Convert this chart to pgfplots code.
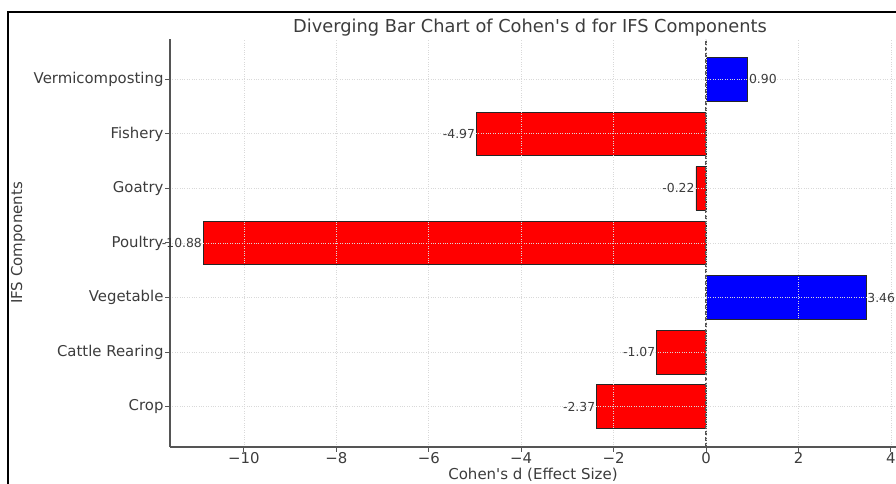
\documentclass[border=0pt]{standalone}
\usepackage{fontspec}
\setmainfont{DejaVu Sans}
\usepackage{pgfplots}
\pgfplotsset{compat=1.18}
\definecolor{txt}{RGB}{60,60,60}
\definecolor{spine}{RGB}{85,85,85}
\definecolor{bred}{RGB}{255,0,0}
\definecolor{bblue}{RGB}{0,0,255}
\begin{document}
\begin{tikzpicture}[x=1bp,y=1bp]
\useasboundingbox (0,0) rectangle (896,484);
\draw[black, line width=1.5bp] (8,0) -- (8,472) -- (896,472);
\begin{axis}[
  at={(170bp,37bp)}, anchor=south west,
  scale only axis, width=726bp, height=408bp,
  xmin=-11.6, xmax=4.11, ymin=-0.74, ymax=6.74,
  axis lines=left, axis line style={-, draw=spine, line width=1.5bp},
  tick align=outside, major tick length=5bp,
  tick style={draw=spine, line width=1bp},
  xtick={-10,-8,...,4}, xticklabels={−10,−8,−6,−4,−2,0,2,4},
  ytick={0,...,6},
  yticklabels={Crop, Cattle Rearing, Vegetable, Poultry, Goatry, Fishery, Vermicomposting},
  ticklabel style={font=\fontsize{14.9bp}{17bp}\selectfont, text=txt},
  xticklabel style={yshift=3bp},
  yticklabel style={xshift=2bp},
  grid=major, major grid style={dotted, gray!30, line width=0.8bp},
  axis on top,
  clip=false,
]
\addplot[xbar, bar width=0.8, bar shift=0pt, fill=bred, draw=black!85, line width=0.8bp,
  nodes near coords, point meta=explicit symbolic,
  every node near coord/.append style={anchor=east, font=\fontsize{12.4bp}{14bp}\selectfont, text=txt, inner sep=1bp}]
  coordinates {(-2.37,0) [-2.37] (-1.07,1) [-1.07] (-10.88,3) [-10.88] (-0.22,4) [-0.22] (-4.97,5) [-4.97]};
\addplot[xbar, bar width=0.8, bar shift=0pt, fill=bblue, draw=black!85, line width=0.8bp,
  nodes near coords, point meta=explicit symbolic,
  every node near coord/.append style={anchor=west, font=\fontsize{12.4bp}{14bp}\selectfont, text=txt, inner sep=1bp}]
  coordinates {(3.46,2) [3.46] (0.90,6) [0.90]};
\addplot[forget plot, draw=spine, line width=1.2bp, dash pattern=on 4bp off 2bp] coordinates {(0,-0.74) (0,6.74)};
\end{axis}
\node[font=\fontsize{17.8bp}{20bp}\selectfont, text=txt] at (530,456) {Diverging Bar Chart of Cohen\textquotesingle s d for IFS Components};
\node[font=\fontsize{15bp}{18bp}\selectfont, text=txt] at (533,9) {Cohen\textquotesingle s d (Effect Size)};
\node[font=\fontsize{15bp}{18bp}\selectfont, text=txt, rotate=90] at (18,241) {IFS Components};
\end{tikzpicture}
\end{document}
